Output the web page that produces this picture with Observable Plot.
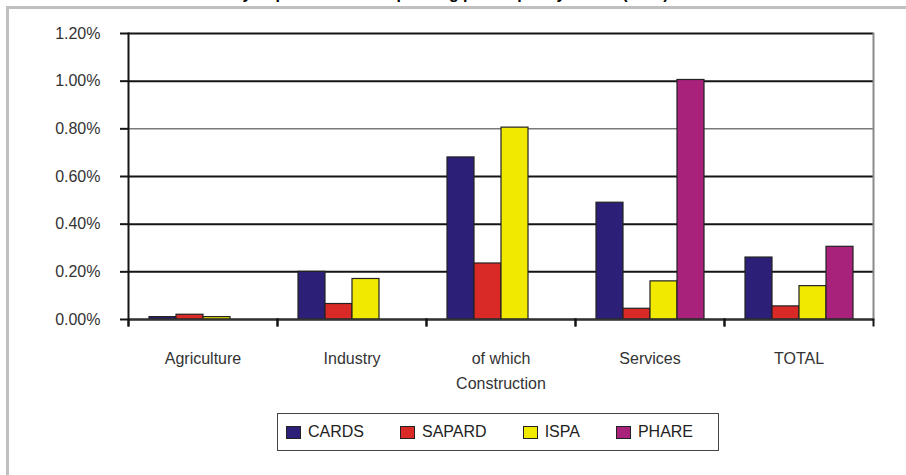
<!DOCTYPE html>
<html>
<head>
<meta charset="utf-8">
<script src="https://cdn.jsdelivr.net/npm/d3@7"></script>
<script src="https://cdn.jsdelivr.net/npm/@observablehq/plot@0.6"></script>
<style>
  html, body { margin: 0; padding: 0; background: #fff; }
  #wrap { position: relative; width: 906px; height: 475px; overflow: hidden; font-family: "Liberation Sans", Arial, sans-serif; }
  #title { position: absolute; left: 122px; top: -14px; font-size: 16px; line-height: 16px; font-weight: bold; color: #000; white-space: nowrap; }
  .frameTop { position: absolute; left: 6px; top: 6px; width: 900px; height: 3px; background: #c0c0c0; }
  .frameLeft { position: absolute; left: 6px; top: 6px; width: 3px; height: 469px; background: #c0c0c0; }
  #chart { position: absolute; left: 0; top: 0; }
  #legend { position: absolute; left: 277px; top: 413px; width: 442px; height: 38px; box-sizing: border-box; border: 1.5px solid #444; display: flex; align-items: center; padding-left: 8px; gap: 36px; font-size: 16px; color: #222; }
  .item { display: flex; align-items: center; }
  .sw { width: 13px; height: 11px; border: 1px solid #222; margin-right: 7px; }
</style>
</head>
<body>
<div id="wrap">
  <div id="title">Table 7: Intensity of pre-accession spending per output by sector (2003)</div>
  <div class="frameTop"></div>
  <div class="frameLeft"></div>
  <div id="chart"></div>
  <div id="legend"></div>
</div>
<script>
const categories = ["Agriculture", "Industry", "of which Construction", "Services", "TOTAL"];
const seriesNames = ["CARDS", "SAPARD", "ISPA", "PHARE"];
const seriesColors = ["#2b1f78", "#da2a27", "#f1ea00", "#a8217b"];
const CARDS  = [0.01, 0.20, 0.68, 0.49, 0.26];
const SAPARD = [0.02, 0.065, 0.235, 0.045, 0.055];
const ISPA   = [0.01, 0.17, 0.805, 0.16, 0.14];
const PHARE  = [null, null, null, 1.005, 0.305];
const yTicks = [0, 0.2, 0.4, 0.6, 0.8, 1.0, 1.2];

const seriesValues = {CARDS, SAPARD, ISPA, PHARE};
const data = [];
categories.forEach((c, i) => {
  seriesNames.forEach(s => {
    const v = seriesValues[s][i];
    if (v != null) data.push({category: c, series: s, value: v});
  });
});

const W = 906, H = 400, mt = 33, mb = 81, ml = 127, mr = 33;
const plotH = H - mt - mb;

const chart = Plot.plot({
  width: W,
  height: H,
  marginTop: mt,
  marginBottom: mb,
  marginLeft: ml,
  marginRight: mr,
  style: {fontFamily: "'Liberation Sans', Arial, sans-serif", fontSize: "16px", background: "transparent"},
  fx: {domain: categories, padding: 0, label: null},
  x: {domain: seriesNames, paddingInner: 0, paddingOuter: 0.665, axis: null},
  y: {domain: [0, 1.2], label: null},
  color: {domain: seriesNames, range: seriesColors},
  marks: [
    Plot.ruleY(yTicks.filter(d => d !== 0.8), {stroke: "#151515", strokeWidth: 2}),
    Plot.ruleY(yTicks.filter(d => d === 0.8), {stroke: "#7a7a7a", strokeWidth: 1.5}),
    Plot.frame({anchor: "right", facetAnchor: "right", stroke: "#8a8a8a", strokeWidth: 2}),
    Plot.barY(data, {fx: "category", x: "series", y: "value", fill: "series", stroke: "#222", strokeWidth: 1.2}),
    Plot.ruleY([0], {stroke: "#333", strokeWidth: 2}),
    Plot.frame({anchor: "left", insetTop: plotH, insetBottom: -6, stroke: "#151515", strokeWidth: 2}),
    Plot.frame({anchor: "right", insetTop: plotH, insetBottom: -6, stroke: "#151515", strokeWidth: 2}),
    Plot.frame({anchor: "left", facetAnchor: "left", insetBottom: -6, stroke: "#151515", strokeWidth: 2}),
    Plot.axisY({ticks: yTicks, tickSize: 8, tickPadding: 20, tickFormat: d => d.toFixed(2) + "%", fontSize: 16, fill: "#333", stroke: "#151515", strokeWidth: 2, label: null}),
    Plot.axisFx({anchor: "bottom", tickSize: 0, tickPadding: 26, fontSize: 16, fill: "#333", lineHeight: 1.6, label: null,
      tickFormat: d => d.replace("of which ", "of which\n")})
  ]
});
document.getElementById("chart").appendChild(chart);

const legend = document.getElementById("legend");
seriesNames.forEach((s, i) => {
  const item = document.createElement("div");
  item.className = "item";
  const sw = document.createElement("div");
  sw.className = "sw";
  sw.style.background = seriesColors[i];
  const t = document.createElement("span");
  t.textContent = s;
  item.appendChild(sw);
  item.appendChild(t);
  legend.appendChild(item);
});
</script>
</body>
</html>
